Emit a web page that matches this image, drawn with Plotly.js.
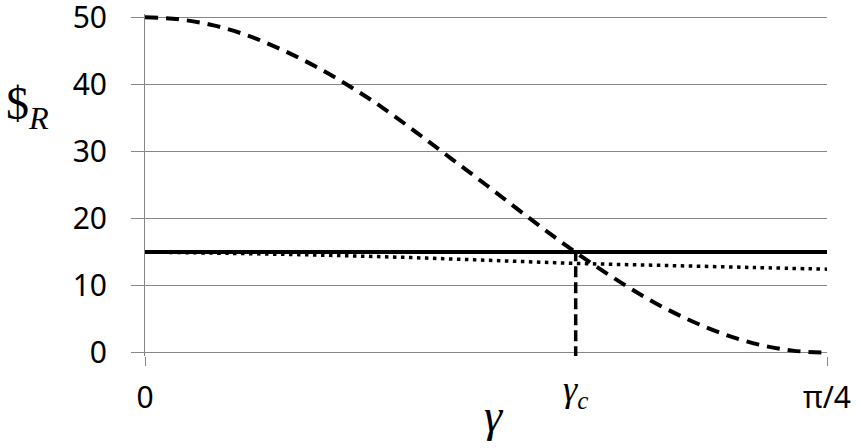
<!DOCTYPE html>
<html>
<head>
<meta charset="utf-8">
<script src="https://cdn.plot.ly/plotly-3.0.1.min.js"></script>
<style>html,body{margin:0;padding:0;background:#fff;}#chart{width:861px;height:448px;}</style>
</head>
<body>
<div id="chart"></div>
<script>
// gamma values (radians, 0 .. pi/4)
const gammaDashed = [0, 0.039, 0.079, 0.118, 0.157, 0.196, 0.236, 0.275, 0.314, 0.353, 0.393,
                     0.432, 0.471, 0.511, 0.550, 0.589, 0.628, 0.668, 0.707, 0.746, 0.7854];
const valuesDashed = [50, 49.7, 48.8, 47.3, 45.2, 42.7, 39.7, 36.4, 32.7, 28.9, 25,
                      21.1, 17.3, 13.6, 10.3, 7.3, 4.8, 2.7, 1.2, 0.3, 0];

const gammaSolid = [0, 0.7854];
const valuesSolid = [15, 15];

const gammaDotted = [0, 0.1, 0.2, 0.3, 0.4, 0.5, 0.6, 0.7, 0.7854];
const valuesDotted = [15, 14.8, 14.55, 14.2, 13.75, 13.3, 13.0, 12.7, 12.45];

const gammaC = 0.496;
const gammaCLine = [gammaC, gammaC];
const valuesCLine = [-0.7, 15];

const xTickVals = [0, 0.7854];
const xTickText = ['0', 'π/4'];
const yTickVals = [0, 10, 20, 30, 40, 50];

const SERIF = 'Liberation Serif';

const traces = [
  {x: gammaDashed, y: valuesDashed, mode: 'lines', line: {color: '#000', width: 4, dash: '13px,8px', shape: 'spline'}, hoverinfo: 'skip'},
  {x: gammaSolid, y: valuesSolid, mode: 'lines', line: {color: '#000', width: 4}, hoverinfo: 'skip'},
  {x: gammaDotted, y: valuesDotted, mode: 'lines', line: {color: '#000', width: 3.5, dash: '3.5px,4.5px', shape: 'spline'}, hoverinfo: 'skip'},
  {x: gammaCLine, y: valuesCLine, mode: 'lines', line: {color: '#000', width: 3.5, dash: '11px,5px'}, hoverinfo: 'skip'}
];

const layout = {
  width: 861, height: 448,
  margin: {l: 145, r: 34, t: 13.6, b: 91.6},
  paper_bgcolor: '#fff', plot_bgcolor: '#fff',
  showlegend: false,
  font: {family: SERIF, size: 40, color: '#000'},
  xaxis: {
    range: [0, 0.7854], tickvals: xTickVals, ticktext: xTickText,
    ticks: 'outside', ticklen: 9, tickwidth: 1, tickcolor: '#868686',
    showgrid: false, zeroline: false, showline: false,
    tickfont: {size: 30, family: 'Noto Sans', color: '#000'},
    ticklabelstandoff: 6, ticklabeloverflow: 'allow'
  },
  yaxis: {
    range: [-0.5, 50.5], tickvals: yTickVals,
    ticks: 'outside', ticklen: 13, tickwidth: 1, tickcolor: '#868686',
    showgrid: true, gridcolor: '#868686', gridwidth: 1,
    zeroline: false, showline: true, linecolor: '#868686', linewidth: 1,
    tickfont: {size: 30, family: 'Noto Sans', color: '#000'},
    ticklabelstandoff: 18, ticklabeloverflow: 'allow'
  },
  annotations: [
    {text: '$<sub><i>R</i></sub>', xref: 'paper', yref: 'paper', x: -0.1716, y: 0.7275,
     xanchor: 'center', yanchor: 'middle', showarrow: false,
     font: {family: SERIF, size: 46, color: '#000'}},
    {text: '<i>γ</i>', xref: 'paper', yref: 'paper', x: 0.5117, y: -0.175,
     xanchor: 'center', yanchor: 'middle', showarrow: false,
     font: {family: SERIF, size: 46, color: '#000'}},
    {text: '<i>γ</i><sub><i>c</i></sub>', xref: 'x', yref: 'paper', x: gammaC, y: -0.104,
     xanchor: 'center', yanchor: 'middle', showarrow: false,
     font: {family: SERIF, size: 36, color: '#000'}}
  ]
};

Plotly.newPlot('chart', traces, layout, {displayModeBar: false, staticPlot: true});
</script>
</body>
</html>
